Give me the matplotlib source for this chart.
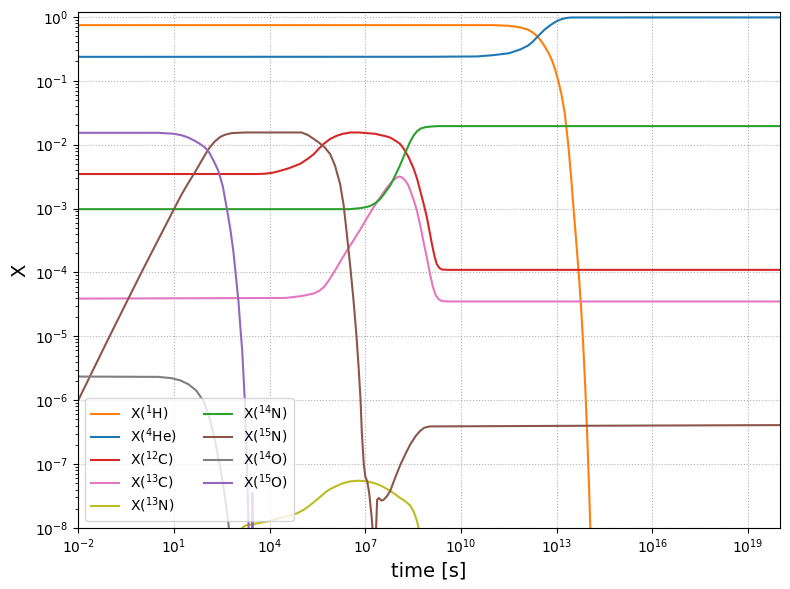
import numpy as np
import matplotlib
matplotlib.use("Agg")
import matplotlib.pyplot as plt

# ---- data (log10 of time [s] and log10 of mass fraction X) ----
H_logt = [-2, 11.0, 11.5, 11.86, 12.1, 12.25, 12.38, 12.5, 12.62, 12.74, 12.86, 12.96, 13.05,
          13.15, 13.25, 13.36, 13.45, 13.52, 13.61, 13.70, 13.77, 13.83, 13.90, 13.96, 14.01,
          14.05, 14.12]
H_logX = [-0.13, -0.13, -0.14, -0.165, -0.2, -0.245, -0.30, -0.37, -0.46, -0.56, -0.69, -0.84,
          -1.0, -1.22, -1.5, -1.99, -2.5, -2.95, -3.5, -4.08, -4.6, -5.12, -5.85, -6.6, -7.3,
          -7.93, -9.0]

He_logt = [-2, 9.0, 10.5, 11.0, 11.5, 11.86, 12.1, 12.25, 12.38, 12.5, 12.62, 12.74, 12.86,
           12.96, 13.05, 13.15, 13.25, 13.36, 13.5, 20]
He_logX = [-0.626, -0.625, -0.62, -0.60, -0.57, -0.51, -0.45, -0.39, -0.32, -0.26, -0.20,
           -0.153, -0.111, -0.079, -0.057, -0.037, -0.024, -0.014, -0.010, -0.009]

C12_logt = [-2, 3.6, 3.85, 4.1, 4.33, 4.6, 4.96, 5.2, 5.38, 5.55, 5.69, 5.9, 6.11, 6.3, 6.53,
            6.8, 7.05, 7.3, 7.47, 7.65, 7.78, 7.95, 8.09, 8.2, 8.35, 8.51, 8.62, 8.72, 8.83,
            8.93, 9.01, 9.09, 9.17, 9.24, 9.32, 9.40, 9.6, 20]
C12_logX = [-2.46, -2.46, -2.455, -2.44, -2.41, -2.37, -2.30, -2.22, -2.15, -2.06, -1.99, -1.91,
            -1.86, -1.83, -1.81, -1.81, -1.82, -1.83, -1.85, -1.87, -1.89, -1.94, -1.99, -2.06,
            -2.19, -2.37, -2.53, -2.72, -2.93, -3.14, -3.35, -3.56, -3.75, -3.87, -3.93, -3.955,
            -3.96, -3.96]

C13_logt = [-2, 4.5, 5.0, 5.2, 5.38, 5.55, 5.70, 5.85, 6.0, 6.11, 6.25, 6.42, 6.6, 6.84, 7.05,
            7.26, 7.47, 7.68, 7.85, 7.97, 8.06, 8.14, 8.25, 8.35, 8.45, 8.55, 8.62, 8.72, 8.82,
            8.93, 9.03, 9.12, 9.20, 9.28, 9.36, 9.45, 9.6, 20]
C13_logX = [-4.41, -4.40, -4.37, -4.35, -4.33, -4.29, -4.23, -4.13, -4.01, -3.92, -3.80, -3.66,
            -3.52, -3.33, -3.15, -2.98, -2.82, -2.67, -2.57, -2.52, -2.50, -2.51, -2.56, -2.64,
            -2.77, -2.92, -3.04, -3.26, -3.51, -3.77, -4.03, -4.23, -4.35, -4.41, -4.44, -4.45,
            -4.455, -4.455]

N13_logt = [2.95, 3.05, 3.13, 3.25, 3.49, 4.0, 4.33, 4.6, 4.86, 5.05, 5.2, 5.4, 5.59, 5.75,
            5.9, 6.11, 6.3, 6.53, 6.8, 7.05, 7.3, 7.5, 7.68, 7.9, 8.09, 8.25, 8.41, 8.52, 8.6,
            8.67, 8.75]
N13_logX = [-8.5, -8.15, -8.0, -7.96, -7.94, -7.89, -7.84, -7.81, -7.77, -7.72, -7.67, -7.59,
            -7.51, -7.44, -7.39, -7.34, -7.30, -7.27, -7.26, -7.27, -7.30, -7.34, -7.39, -7.46,
            -7.53, -7.58, -7.65, -7.75, -7.86, -8.0, -8.2]

N14_logt = [-2, 6.5, 6.84, 7.0, 7.15, 7.30, 7.47, 7.62, 7.78, 7.95, 8.09, 8.25, 8.40, 8.51,
            8.62, 8.75, 8.9, 9.1, 9.3, 20]
N14_logX = [-3.01, -3.01, -2.995, -2.98, -2.96, -2.92, -2.85, -2.75, -2.64, -2.47, -2.32, -2.13,
            -1.96, -1.86, -1.79, -1.745, -1.725, -1.715, -1.71, -1.71]

N15_logt = [-2, -1.0, 0.0, 1.03, 1.25, 1.45, 1.66, 1.88, 2.08, 2.28, 2.45, 2.6, 2.81, 3.2, 5.0,
            5.2, 5.38, 5.55, 5.72, 5.90, 6.05, 6.21, 6.32, 6.42, 6.53, 6.63, 6.72, 6.79, 6.85,
            6.89, 6.95, 7.0, 7.06, 7.12, 7.20, 7.27, 7.33, 7.37, 7.42, 7.50, 7.57, 7.68, 7.78,
            7.93, 8.09, 8.25, 8.41, 8.58, 8.72, 8.85, 9.03, 9.3, 14, 20]
N15_logX = [-6.0, -4.98, -3.98, -2.98, -2.77, -2.60, -2.43, -2.24, -2.07, -1.95, -1.88, -1.845,
            -1.82, -1.81, -1.81, -1.85, -1.91, -1.97, -2.04, -2.15, -2.33, -2.62, -2.95, -3.40,
            -3.92, -4.44, -4.98, -5.49, -6.0, -6.5, -7.0, -7.2, -7.27, -7.45, -7.84, -8.3, -8.1,
            -7.56, -7.53, -7.57, -7.56, -7.50, -7.42, -7.22, -7.02, -6.85, -6.69, -6.56, -6.48,
            -6.43, -6.41, -6.41, -6.40, -6.39]

O14_logt = [-2, 0.5, 0.92, 1.2, 1.45, 1.7, 1.92, 2.07, 2.19, 2.32, 2.45, 2.55, 2.63, 2.71, 2.8]
O14_logX = [-5.63, -5.635, -5.655, -5.69, -5.75, -5.85, -6.01, -6.2, -6.43, -6.72, -7.05, -7.35,
            -7.63, -7.94, -8.4]

O15_logt = [-2, 0.5, 1.0, 1.25, 1.45, 1.65, 1.82, 1.97, 2.1, 2.25, 2.39, 2.53, 2.65, 2.76,
            2.86, 2.94, 3.02, 3.08, 3.14, 3.22, 3.28, 3.34, 3.40, 3.44, 3.46, 3.48, 3.52]
O15_logX = [-1.815, -1.815, -1.83, -1.855, -1.89, -1.94, -1.99, -2.045, -2.12, -2.26, -2.41,
            -2.65, -2.98, -3.3, -3.66, -4.05, -4.44, -4.85, -5.23, -6.0, -6.9, -8.0, -9.0, -9.5,
            -7.45, -9.5, -10.0]

series = [
    ("X($^{1}$H)", H_logt, H_logX, "C1"),
    ("X($^{4}$He)", He_logt, He_logX, "C0"),
    ("X($^{12}$C)", C12_logt, C12_logX, "C3"),
    ("X($^{13}$C)", C13_logt, C13_logX, "C6"),
    ("X($^{13}$N)", N13_logt, N13_logX, "C8"),
    ("X($^{14}$N)", N14_logt, N14_logX, "C2"),
    ("X($^{15}$N)", N15_logt, N15_logX, "C5"),
    ("X($^{14}$O)", O14_logt, O14_logX, "C7"),
    ("X($^{15}$O)", O15_logt, O15_logX, "C4"),
]

fig = plt.figure(figsize=(7.9, 5.89), dpi=100)
ax = fig.add_axes([0.0991, 0.1036, 0.9873 - 0.0991, 0.980 - 0.1036])

for label, lt, lx, col in series:
    ax.loglog(10.0 ** np.array(lt), 10.0 ** np.array(lx), color=col, label=label, lw=1.5)

ax.set_xlim(1e-2, 1e20)
ax.set_ylim(1e-8, 1.2)
ax.set_xticks([1e-2, 1e1, 1e4, 1e7, 1e10, 1e13, 1e16, 1e19])
ax.xaxis.set_minor_locator(matplotlib.ticker.NullLocator())
ax.grid(True, linestyle=":", which="major")
ax.set_xlabel("time [s]", fontsize=14)
ax.set_ylabel("X", fontsize=14)
ax.legend(loc="lower left", ncol=2, fontsize=10, labelspacing=0.25)

fig.savefig("out.png", dpi=100)
